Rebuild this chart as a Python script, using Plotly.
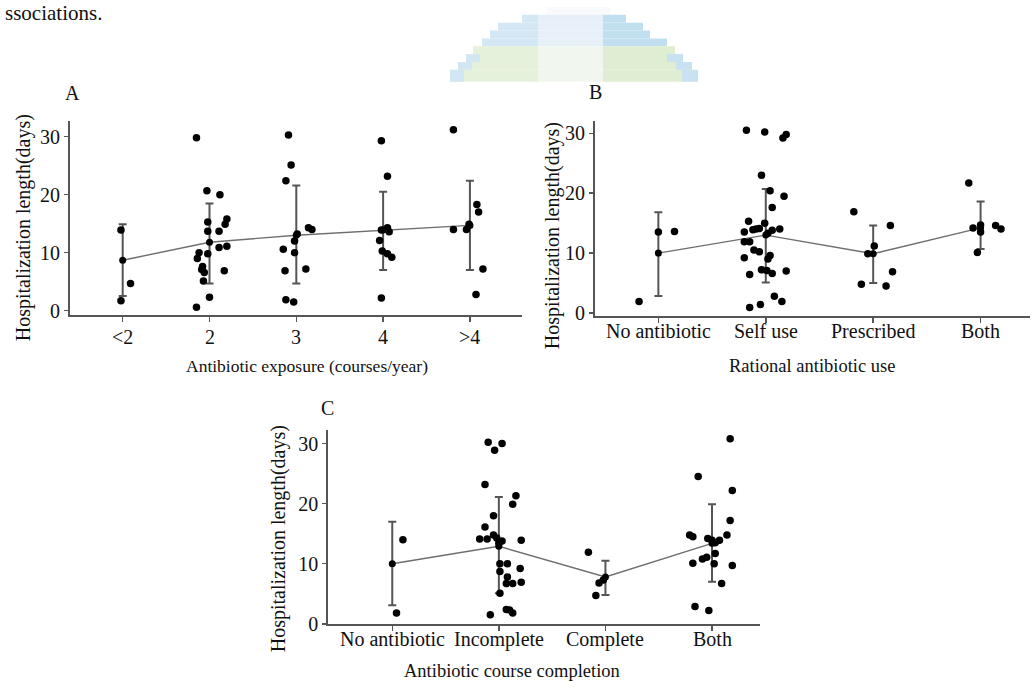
import plotly.graph_objects as go

W, H = 1035, 690
FONT = "Liberation Serif"

# ---------------- Panel A data ----------------
A_cats = ["&lt;2", "2", "3", "4", "&gt;4"]
A_values = [
    [13.9, 1.7, 4.7],
    [29.8, 20.7, 20.0, 15.3, 15.8, 14.9, 13.7, 13.7, 10.9, 11.1, 10.0, 9.8, 9.0, 7.6, 7.1, 6.6, 6.9, 5.1, 2.3, 0.6],
    [30.3, 25.1, 22.4, 14.3, 14.0, 13.2, 12.0, 10.6, 10.0, 6.9, 7.2, 1.9, 1.5],
    [29.3, 23.2, 14.3, 13.9, 13.6, 12.1, 10.3, 9.8, 9.2, 2.2],
    [31.2, 14.0, 14.0, 14.9, 18.3, 17.0, 7.2, 2.8],
]
A_jitter = [
    [-0.02, -0.02, 0.09],
    [-0.15, -0.03, 0.12, -0.02, 0.20, 0.18, -0.02, 0.11, 0.11, 0.20, -0.12, -0.02, -0.14, -0.08, -0.09, -0.06, 0.17, -0.07, 0.0, -0.15],
    [-0.09, -0.06, -0.12, 0.14, 0.18, 0.01, -0.02, -0.15, -0.02, -0.13, 0.11, -0.12, -0.03],
    [-0.02, 0.05, 0.05, -0.02, 0.07, -0.04, -0.01, 0.05, 0.10, -0.02],
    [-0.19, -0.19, -0.04, -0.01, 0.08, 0.10, 0.15, 0.07],
]
A_mean = [8.7, 11.8, 13.0, 13.9, 14.7]
A_upper = [14.9, 18.5, 21.6, 20.5, 22.4]
A_lower = [2.55, 4.7, 4.7, 7.0, 7.0]

# ---------------- Panel B data ----------------
B_cats = ["No antibiotic", "Self use", "Prescribed", "Both"]
B_values = [
    [13.5, 13.6, 1.9],
    [30.5, 30.2, 29.2, 29.8, 23.0, 20.4, 19.5, 17.6, 15.3, 15.0, 13.9, 14.0, 14.1, 13.5, 13.8, 14.0, 13.3,
     11.9, 11.9, 10.5, 10.2, 9.6, 9.0, 9.2, 7.2, 7.1, 7.0, 6.4, 6.6, 2.8, 1.4, 0.9, 1.9],
    [16.9, 14.6, 11.2, 9.9, 6.9, 4.8, 4.5],
    [21.7, 14.2, 14.7, 13.5, 14.6, 14.0, 10.1],
]
B_jitter = [
    [0.0, 0.15, -0.18],
    [-0.18, -0.01, 0.16, 0.19, -0.04, 0.04, 0.17, 0.06, -0.16, -0.01, -0.12, -0.09, -0.06, -0.20, 0.06, 0.13, 0.02,
     -0.20, -0.15, -0.11, -0.06, 0.04, 0.02, -0.20, -0.04, 0.01, 0.19, -0.15, 0.06, 0.08, -0.05, -0.15, 0.15],
    [-0.18, 0.16, 0.01, -0.05, 0.18, -0.11, 0.12],
    [-0.11, -0.07, 0.0, 0.0, 0.14, 0.19, -0.03],
]
B_mean = [10.0, 13.0, 9.9, 14.2]
B_upper = [16.8, 20.7, 14.6, 18.6]
B_lower = [2.85, 5.1, 5.0, 10.7]

# ---------------- Panel C data ----------------
C_cats = ["No antibiotic", "Incomplete", "Complete", "Both"]
C_values = [
    [14.0, 1.8],
    [30.2, 30.0, 28.9, 23.2, 21.3, 19.9, 18.0, 16.1, 14.1, 14.1, 14.8, 14.3, 13.8, 13.4, 13.9,
     10.0, 10.0, 8.7, 7.8, 9.2, 6.7, 6.7, 6.9, 5.1, 2.4, 2.3, 1.8, 1.5],
    [11.9, 7.3, 6.8, 4.7],
    [30.8, 24.5, 22.2, 17.2, 14.8, 14.8, 14.5, 14.2, 13.9, 13.9, 13.5, 11.7, 11.1, 10.8, 10.1, 10.0, 9.7, 6.7, 2.9, 2.2],
]
C_jitter = [
    [0.10, 0.04],
    [-0.10, 0.03, -0.04, -0.13, 0.16, 0.13, -0.05, -0.13, -0.18, -0.11, -0.05, -0.02, 0.03, 0.0, 0.21,
     0.01, 0.08, 0.01, 0.08, 0.20, 0.07, 0.13, 0.21, 0.01, 0.07, 0.10, 0.13, -0.08],
    [-0.16, -0.02, -0.06, -0.09],
    [0.17, -0.13, 0.19, 0.17, 0.14, -0.21, -0.18, -0.04, 0.0, 0.07, 0.03, 0.03, -0.05, -0.09, -0.18, 0.02, 0.19, 0.09, -0.16, -0.03],
]
C_mean = [10.0, 12.9, 7.8, 13.4]
C_upper = [17.0, 21.1, 10.5, 19.9]
C_lower = [3.1, 5.1, 4.8, 7.0]

AXIS_COLOR = "#555555"
LINE_COLOR = "#6e6e6e"
MS = 7.5


def px_x(x):
    return x / W


def px_y(y):
    return 1 - y / H


fig = go.Figure()


def add_panel(idx, values, jitter, mean, upper, lower):
    xa = "x" if idx == 1 else f"x{idx}"
    ya = "y" if idx == 1 else f"y{idx}"
    xs, ys = [], []
    for i, (vals, jit) in enumerate(zip(values, jitter)):
        for v, j in zip(vals, jit):
            xs.append(i + j)
            ys.append(v)
    cats = list(range(len(mean)))
    fig.add_trace(go.Scatter(
        x=cats, y=mean, mode="lines", xaxis=xa, yaxis=ya,
        line=dict(color=LINE_COLOR, width=1.4), showlegend=False, hoverinfo="skip",
    ))
    fig.add_trace(go.Scatter(
        x=cats, y=mean, mode="markers", xaxis=xa, yaxis=ya,
        marker=dict(color="black", size=MS - 0.5),
        error_y=dict(type="data", symmetric=False,
                     array=[u - m for u, m in zip(upper, mean)],
                     arrayminus=[m - l for m, l in zip(mean, lower)],
                     color=AXIS_COLOR, thickness=2, width=4),
        showlegend=False,
    ))
    fig.add_trace(go.Scatter(
        x=xs, y=ys, mode="markers", xaxis=xa, yaxis=ya,
        marker=dict(color="black", size=MS), showlegend=False,
    ))


add_panel(1, A_values, A_jitter, A_mean, A_upper, A_lower)
add_panel(2, B_values, B_jitter, B_mean, B_upper, B_lower)
add_panel(3, C_values, C_jitter, C_mean, C_upper, C_lower)

tickfont = dict(family=FONT, size=20, color="#111111")


def xaxis(dom, rng, cats, anchor):
    return dict(domain=dom, range=rng, anchor=anchor, tickmode="array",
                tickvals=list(range(len(cats))), showticklabels=False,
                showline=True, linecolor=AXIS_COLOR, linewidth=2,
                ticks="outside", ticklen=5, tickwidth=1.5, tickcolor=AXIS_COLOR,
                showgrid=False, zeroline=False, fixedrange=True)


def yaxis(dom, rng, anchor):
    return dict(domain=dom, range=rng, anchor=anchor, tickmode="array",
                tickvals=[0, 10, 20, 30], showline=True, linecolor=AXIS_COLOR, linewidth=2,
                ticks="outside", ticklen=4, tickwidth=1.5, tickcolor=AXIS_COLOR,
                showgrid=False, zeroline=False, tickfont=tickfont, fixedrange=True)


layout = dict(
    width=W, height=H, autosize=False,
    margin=dict(l=0, r=0, t=0, b=0),
    paper_bgcolor="white", plot_bgcolor="white",
    hovermode=False,
    font=dict(family=FONT, color="#111111"),
    xaxis=xaxis([px_x(70), px_x(522)], [-0.607, 4.6], A_cats, "y"),
    yaxis=yaxis([px_y(320), px_y(123)], [-0.73, 32.7], "x"),
    xaxis2=xaxis([px_x(595), px_x(1030)], [-0.59, 3.46], B_cats, "y2"),
    yaxis2=yaxis([px_y(320.7), px_y(123.3)], [-0.44, 32.0], "x2"),
    xaxis3=xaxis([px_x(328.3), px_x(760)], [-0.6, 3.45], C_cats, "y3"),
    yaxis3=yaxis([px_y(634.3), px_y(436.7)], [-0.06, 32.3], "x3"),
)

ann = []


def text(x, y, s, size, angle=0, xanchor="center", yanchor="middle"):
    ann.append(dict(x=px_x(x), y=px_y(y), xref="paper", yref="paper", text=s,
                    showarrow=False, textangle=angle, xanchor=xanchor, yanchor=yanchor,
                    font=dict(family=FONT, size=size, color="#111111")))


def cat_labels(xref, cats, ytop):
    for i, c in enumerate(cats):
        ann.append(dict(x=i, y=px_y(ytop), xref=xref, yref="paper", text=c,
                        showarrow=False, xanchor="center", yanchor="top",
                        font=dict(family=FONT, size=20, color="#111111")))


cat_labels("x", A_cats, 329)
cat_labels("x2", B_cats, 323)
cat_labels("x3", C_cats, 636)

text(104, 13, "ssociations.", 21, xanchor="right")
text(72, 95, "A", 20)
text(595, 93, "B", 20)
text(327, 415, "C", 20)
text(23, 232, "Hospitalization length(days)", 20, angle=-90)
text(552, 240, "Hospitalization length(days)", 20, angle=-90)
text(278, 548, "Hospitalization length(days)", 20, angle=-90)
text(307, 372, "Antibiotic exposure (courses/year)", 17.5)
text(812, 372, "Rational antibiotic use", 18.5)
text(512, 682, "Antibiotic course completion", 18.5)
layout["annotations"] = ann

# decorative pixelated logo at top centre
shapes = []
top = ("#d3e7f4", "#e7eff8", "#c2dfef")
grn = ("#e6f1dc", "#f1f7ee", "#dfeed2")
rows = [
    (15, 23, 522, 626, top),
    (23, 31, 498, 643, top),
    (31, 39, 490, 650, top),
    (39, 47, 482, 667, top),
    (47, 55, 473, 675, grn),
    (55, 63, 466, 683, grn),
    (63, 71, 458, 692, grn),
    (71, 83, 450, 698, grn),
]


def rect(x0, x1, y0, y1, c):
    shapes.append(dict(type="rect", xref="paper", yref="paper", x0=px_x(x0), x1=px_x(x1),
                       y0=px_y(y1), y1=px_y(y0), fillcolor=c, line=dict(width=0), layer="below"))


rect(547, 610, 7, 15, "#f8fafd")
for y0, y1, xl, xr, cols in rows:
    rect(xl, 538, y0, y1, cols[0])
    rect(538, 603, y0, y1, cols[1])
    rect(603, xr, y0, y1, cols[2])
    if cols is grn and y0 >= 55:
        rect(xl, xl + 14, y0, y1, "#d2e7f3")
        rect(xr - 16, xr, y0, y1, "#c8e2f1")
layout["shapes"] = shapes

fig.update_layout(**layout)
fig.write_html("out.html", config={"displayModeBar": False, "staticPlot": True},
               post_script="document.body.style.margin='0';document.body.style.overflow='hidden';")
